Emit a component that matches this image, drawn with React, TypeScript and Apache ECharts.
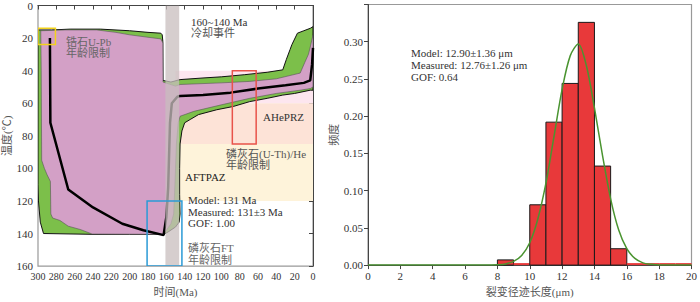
import React, { useEffect, useRef } from "react";
import * as echarts from "echarts";

// ---------- Left panel: thermal history (time Ma, temperature °C) ----------
const timeRange = [0, 300];
const tempRange = [0, 160];

// acceptable-fit envelope (green)
const acceptableEnvelope: number[][] = [
  [300, 15], [285, 15], [265, 14.5], [232, 14.5], [200, 15.5], [180, 16.5], [166, 17], [164.5, 18],
  [163.8, 22], [163.6, 46], [155, 47], [145, 45.5], [120, 44.5], [100, 43.8], [75, 42.5], [50, 41],
  [33, 39.5], [29, 33], [25, 27], [23, 24], [17, 17], [10, 15.5], [3, 14], [0, 13],
  [0, 52], [3, 52], [20, 54], [33, 55], [50, 57], [69, 59], [87, 62], [105, 64], [125, 67], [134, 70],
  [140, 72], [143, 77], [145, 85], [145.5, 100], [145.5, 116], [145, 128], [146, 133], [150, 136],
  [158, 139], [163, 140.5], [200, 140.5], [240, 140.5], [294, 140], [297.5, 133], [299.5, 120],
  [300, 110],
];

// good-fit envelope (pink)
const goodEnvelope: number[][] = [
  [297, 15.5], [270, 15], [236, 15], [215, 16.5], [200, 18], [180, 19.5], [166, 20.5], [163.8, 23],
  [163.6, 47], [150, 49.5], [145, 48.5], [100, 47.5], [69, 46.6], [40, 45], [14, 41.5], [9, 35], [5, 30],
  [3, 25.5], [0, 18], [0, 50], [3, 51], [14, 52], [40, 54], [69, 57], [100, 61], [130, 65], [145, 68],
  [147, 72], [149, 85], [150, 100], [151, 115], [152, 128], [155, 134], [160, 138], [163, 140.5],
  [241, 140.3], [254, 137.5], [267, 135.5], [276, 132], [284, 130.5], [286, 128], [286.5, 108],
  [290, 104], [293, 100], [296, 95], [296.5, 40],
];

// best-fit path
const bestPath: number[][] = [
  [287, 20], [286.5, 72], [267, 113], [240, 124], [208, 134], [185, 138], [163, 141], [160, 130],
  [158, 112], [156, 72], [154, 60], [148, 56], [145, 55.5], [120, 55], [90, 53.5], [60, 51], [30, 49],
  [10, 47.5], [3, 46], [1, 36], [0, 26],
];

// zones [Tmin, Tmax] over time span [tStart, tEnd]
const zoneTimeSpan = [150, 0];
const zoneTemps: number[][] = [[40, 60], [60, 85], [85, 120]];

// constraint boxes [tOld, tYoung, Tmin, Tmax]
const zirconBox = [300, 281, 14, 24];
const aheBox = [88, 62, 40, 85];
const aftBox = [181, 143, 120, 160];
const coolingBar = [161, 146, 0, 160];

// ---------- Right panel: track length histogram ----------
const histBinStarts = [8, 9, 10, 11, 12, 13, 14, 15, 16, 17, 18, 19];
const histFreq = [0.007, 0, 0.081, 0.192, 0.244, 0.326, 0.133, 0.022, 0, 0, 0, 0];
const histBinWidth = 1;

const fitLength = [0, 2, 4, 6, 7, 7.5, 8, 8.5, 9, 9.5, 10, 10.5, 11, 11.5, 12, 12.5, 13, 13.5, 14, 14.5, 15, 15.5, 16, 16.5, 17, 17.5, 18, 20];
const fitFreq = [0, 0, 0, 0, 0, 0.0002, 0.0005, 0.0016, 0.005, 0.013, 0.03, 0.062, 0.11, 0.173, 0.236, 0.281, 0.297, 0.268, 0.211, 0.147, 0.089, 0.047, 0.022, 0.009, 0.003, 0.001, 0, 0];

const SERIF = "'Liberation Serif', 'Times New Roman', 'Noto Sans CJK SC', serif";
const CJK = "'Liberation Serif', 'Noto Sans CJK SC', serif";

function polySeries(pts: number[][], style: any, z: number) {
  return {
    type: "custom",
    xAxisIndex: 0,
    yAxisIndex: 0,
    z,
    silent: true,
    clip: true,
    data: [[pts[0][0], pts[0][1]]],
    renderItem: (_p: any, api: any) => ({
      type: "polygon",
      shape: { points: pts.map((p) => api.coord(p)) },
      style,
    }),
  };
}

function rectSeries(rects: number[][], styles: any[], z: number) {
  return {
    type: "custom",
    xAxisIndex: 0,
    yAxisIndex: 0,
    z,
    silent: true,
    clip: true,
    data: rects.map((r, i) => [r[0], r[1], r[2], r[3], i]),
    renderItem: (_p: any, api: any) => {
      const a = api.coord([api.value(0), api.value(2)]);
      const b = api.coord([api.value(1), api.value(3)]);
      return {
        type: "rect",
        shape: { x: Math.min(a[0], b[0]), y: Math.min(a[1], b[1]), width: Math.abs(b[0] - a[0]), height: Math.abs(b[1] - a[1]) },
        style: styles[api.value(4)],
      };
    },
  };
}

const axisCommon = {
  axisLine: { show: true, lineStyle: { color: "#444", width: 1 } },
  axisTick: { show: true, length: 4, lineStyle: { color: "#444" } },
  splitLine: { show: false },
};

function txt(text: string, x: number, y: number, opts: any = {}) {
  return {
    type: "text",
    silent: true,
    z: 100,
    style: {
      text,
      x,
      y,
      fill: opts.fill || "#333",
      fontSize: opts.fontSize || 11,
      fontFamily: opts.fontFamily || SERIF,
      fontWeight: opts.fontWeight || "normal",
      verticalAlign: "middle",
      align: "left",
    },
  };
}

export default function App() {
  const ref = useRef<HTMLDivElement>(null);
  useEffect(() => {
    const chart = echarts.init(ref.current!, null, { renderer: "svg", width: 700, height: 302 });

    const zoneRects = zoneTemps.map((z) => [zoneTimeSpan[0], zoneTimeSpan[1], z[0], z[1]]);
    const zoneStyles = [
      { fill: "#fde6ef" },
      { fill: "#fde3d7" },
      { fill: "#fef3da" },
    ];

    const histData = histBinStarts.map((s, i) => [s, s + histBinWidth, histFreq[i]]);

    const option: any = {
      animation: false,
      grid: [
        { left: 38, top: 4.5, width: 275, height: 263.5, show: true, borderColor: "#999", borderWidth: 1.2, backgroundColor: "transparent" },
        { left: 368, top: 4.5, width: 325, height: 263.5, show: true, borderColor: "#999", borderWidth: 1.2, backgroundColor: "transparent" },
      ],
      xAxis: [
        {
          gridIndex: 0, type: "value", min: timeRange[0], max: timeRange[1], interval: 20, inverse: true,
          ...axisCommon,
          axisLabel: { fontSize: 10, color: "#333", fontFamily: SERIF, margin: 5 },
          name: "时间(Ma)", nameLocation: "middle", nameGap: 19,
          nameTextStyle: { fontSize: 11, color: "#555", fontFamily: CJK },
        },
        {
          gridIndex: 1, type: "value", min: 0, max: 20, interval: 2,
          ...axisCommon,
          axisLabel: { fontSize: 11, color: "#333", fontFamily: SERIF, margin: 5 },
          name: "裂变径迹长度(μm)", nameLocation: "middle", nameGap: 19,
          nameTextStyle: { fontSize: 11, color: "#555", fontFamily: CJK },
        },
      ],
      yAxis: [
        {
          gridIndex: 0, type: "value", min: tempRange[0], max: tempRange[1], interval: 20, inverse: true,
          ...axisCommon,
          axisLabel: { fontSize: 11, color: "#333", fontFamily: SERIF, margin: 5 },
          name: "温度(℃)", nameLocation: "middle", nameGap: 26, nameRotate: 90,
          nameTextStyle: { fontSize: 11, color: "#555", fontFamily: CJK },
        },
        {
          gridIndex: 1, type: "value", min: 0, max: 0.35, interval: 0.05,
          ...axisCommon,
          axisLabel: {
            fontSize: 11, color: "#333", fontFamily: SERIF, margin: 5,
            formatter: (v: number) => (Math.abs(v - 0.35) < 1e-6 ? "" : v.toFixed(2)),
          },
          name: "频度", nameLocation: "middle", nameGap: 28, nameRotate: 90,
          nameTextStyle: { fontSize: 11, color: "#555", fontFamily: CJK },
        },
      ],
      series: [
        rectSeries(zoneRects, zoneStyles, 1),
        polySeries(acceptableEnvelope, { fill: "#7cbf4a", stroke: "#111", lineWidth: 1 }, 2),
        polySeries(goodEnvelope, { fill: "#d3a0c6", stroke: "#555", lineWidth: 0.6 }, 3),
        {
          type: "line", xAxisIndex: 0, yAxisIndex: 0, z: 4, silent: true,
          data: bestPath, showSymbol: false, symbol: "none",
          lineStyle: { color: "#000", width: 2.5 },
        },
        rectSeries([coolingBar], [{ fill: "rgba(200,190,190,0.75)" }], 5),
        rectSeries(
          [zirconBox, aheBox, aftBox],
          [
            { fill: "none", stroke: "#f2d21c", lineWidth: 1.5 },
            { fill: "none", stroke: "#e8534a", lineWidth: 1.5 },
            { fill: "none", stroke: "#2b9ad6", lineWidth: 1.5 },
          ],
          6
        ),
        // histogram
        {
          type: "custom", xAxisIndex: 1, yAxisIndex: 1, z: 3, silent: true,
          data: histData,
          encode: { x: [0, 1], y: 2 },
          renderItem: (_p: any, api: any) => {
            const a = api.coord([api.value(0), api.value(2)]);
            const b = api.coord([api.value(1), 0]);
            const h = b[1] - a[1];
            if (h < 0.5) {
              return { type: "line", shape: { x1: a[0], y1: b[1] - 1, x2: b[0], y2: b[1] - 1 }, style: { stroke: "#e8393a", lineWidth: 2 } };
            }
            return {
              type: "rect",
              shape: { x: a[0], y: a[1], width: b[0] - a[0], height: h },
              style: { fill: "#e8393a", stroke: "#1a1a1a", lineWidth: 1 },
            };
          },
        },
        {
          type: "line", xAxisIndex: 1, yAxisIndex: 1, z: 4, silent: true,
          data: fitLength.map((x, i) => [x, fitFreq[i]]),
          smooth: 0.3, showSymbol: false, symbol: "none",
          lineStyle: { color: "#4a9430", width: 1.5 },
        },
      ],
      graphic: [
        txt("锆石U-Pb", 66, 42, { fill: "#666", fontFamily: CJK }),
        txt("年龄限制", 66, 53, { fill: "#666", fontFamily: CJK }),
        txt("160~140 Ma", 191, 22),
        txt("冷却事件", 191, 33, { fill: "#555", fontFamily: CJK }),
        txt("AHePRZ", 263, 117),
        txt("磷灰石(U-Th)/He", 226, 154, { fill: "#555", fontFamily: CJK }),
        txt("年龄限制", 226, 165, { fill: "#555", fontFamily: CJK }),
        txt("AFTPAZ", 185, 177, { fill: "#222" }),
        txt("Model: 131 Ma", 188, 200),
        txt("Measured: 131±3 Ma", 188, 212),
        txt("GOF: 1.00", 188, 223),
        txt("磷灰石FT", 188, 248, { fill: "#666", fontFamily: CJK }),
        txt("年龄限制", 188, 260, { fill: "#666", fontFamily: CJK }),
        txt("Model: 12.90±1.36 μm", 411, 53),
        txt("Measured: 12.76±1.26 μm", 411, 65),
        txt("GOF: 0.64", 411, 77),
      ],
    };
    chart.setOption(option);
    return () => chart.dispose();
  }, []);
  return <div ref={ref} style={{ position: "absolute", left: 0, top: 0, width: 700, height: 302 }} />;
}
